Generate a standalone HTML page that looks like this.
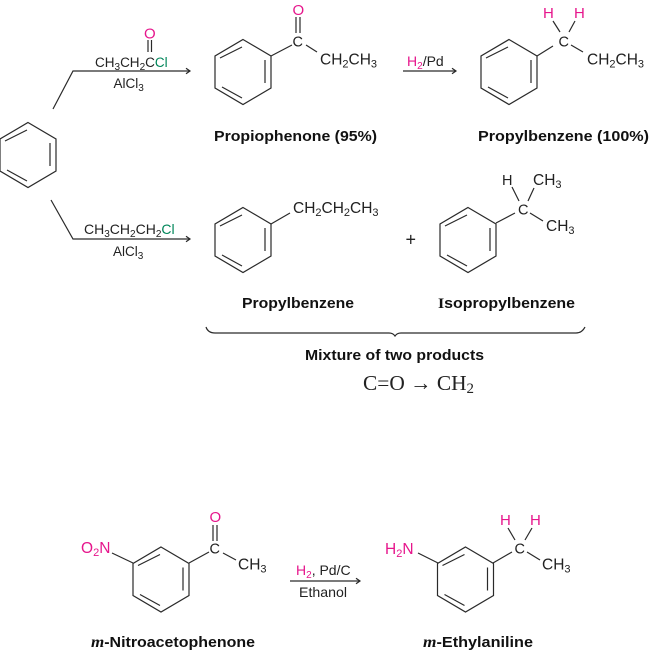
<!DOCTYPE html>
<html>
<head>
<meta charset="utf-8">
<style>
html,body{margin:0;padding:0;background:#fff;width:650px;height:652px;overflow:hidden}
svg{display:block}
text{font-family:"Liberation Sans",sans-serif;font-size:13.500px;fill:#222}
.l{font-size:15.500px}
.l .s{font-size:11px}
.b{font-weight:700;font-size:15px;fill:#111}
.p{fill:#e6168c}
.g{fill:#00865a}
.s{font-size:10px}
line,polyline,path{stroke:#2a2a2a;stroke-width:1.2;fill:none}
</style>
</head>
<body>
<svg width="650" height="652" viewBox="0 0 650 652" xmlns="http://www.w3.org/2000/svg">
<defs>
<g id="r">
<path d="M0-32.500L28-16V16L0 32.500L-28 16V-16Z"/>
<path d="M-23-14L-1-25M22-12V11M-21 15L-1 26" stroke="#444"/>
</g>
<path id="ah" d="M-4-2.800L0 0L-4 2.800" />
</defs>

<use href="#r" x="28" y="155"/>
<use href="#r" x="243" y="72"/>
<use href="#r" x="509" y="72"/>
<use href="#r" x="243" y="240"/>
<use href="#r" x="468" y="240"/>
<use href="#r" x="161" y="579.500"/>
<use href="#r" x="465.500" y="579.500"/>

<polyline points="53,109 73,71 190,71"/><use href="#ah" x="190" y="71"/>
<polyline points="51,200 73,239 190,239"/><use href="#ah" x="190" y="239"/>
<line x1="403" y1="71" x2="456" y2="71"/><use href="#ah" x="456" y="71"/>
<line x1="290" y1="581" x2="360" y2="581"/><use href="#ah" x="360" y="581"/>

<path d="M148 40V52M151.500 40V52"/>
<text x="144" y="38.500" class="p" style="font-size:15px">O</text>
<text x="95" y="67">CH<tspan class="s" dy="3">3</tspan><tspan dy="-3">CH</tspan><tspan class="s" dy="3">2</tspan><tspan dy="-3">C</tspan><tspan class="g">Cl</tspan></text>
<text x="113.500" y="88">AlCl<tspan class="s" dy="3">3</tspan></text>

<path d="M296 17V33M300 17V33M271 56L292 45M306 45L317 52"/>
<text x="292.500" y="15" class="p" style="font-size:15px">O</text>
<text x="292.500" y="46.500" style="font-size:14.500px">C</text>
<text x="320" y="64.500" class="l">CH<tspan class="s" dy="3">2</tspan><tspan dy="-3">CH</tspan><tspan class="s" dy="3">3</tspan></text>
<text x="214" y="141" class="b" textLength="163" lengthAdjust="spacingAndGlyphs">Propiophenone (95%)</text>

<text x="407" y="66" style="font-size:14px"><tspan class="p">H</tspan><tspan class="s p" dy="3">2</tspan><tspan dy="-3">/Pd</tspan></text>

<path d="M537 56L553 46M553 21L560 32M575 21L569 32M571 45L583 52"/>
<text x="543" y="18" class="p" style="font-size:15px">H</text>
<text x="574" y="18" class="p" style="font-size:15px">H</text>
<text x="558.500" y="46.500" style="font-size:14.500px">C</text>
<text x="587" y="64.500" class="l">CH<tspan class="s" dy="3">2</tspan><tspan dy="-3">CH</tspan><tspan class="s" dy="3">3</tspan></text>
<text x="478" y="141" class="b" textLength="171" lengthAdjust="spacingAndGlyphs">Propylbenzene (100%)</text>

<text x="84" y="234" style="font-size:14px">CH<tspan class="s" dy="3">3</tspan><tspan dy="-3">CH</tspan><tspan class="s" dy="3">2</tspan><tspan dy="-3">CH</tspan><tspan class="s" dy="3">2</tspan><tspan dy="-3" class="g">Cl</tspan></text>
<text x="113" y="256">AlCl<tspan class="s" dy="3">3</tspan></text>

<line x1="271" y1="224" x2="290" y2="213"/>
<text x="293" y="213" class="l">CH<tspan class="s" dy="3">2</tspan><tspan dy="-3">CH</tspan><tspan class="s" dy="3">2</tspan><tspan dy="-3">CH</tspan><tspan class="s" dy="3">3</tspan></text>
<text x="405.500" y="245.500" style="font-size:18px">+</text>

<path d="M496 223L515 213M512 187L519 201M534 188L528 201M530 213L543 221"/>
<text x="502" y="185" style="font-size:14.500px">H</text>
<text x="533" y="185" style="font-size:15.500px">CH<tspan style="font-size:11px" dy="3">3</tspan></text>
<text x="518" y="214.500" style="font-size:14.500px">C</text>
<text x="546" y="231" style="font-size:15.500px">CH<tspan style="font-size:11px" dy="3">3</tspan></text>

<text x="242" y="308" class="b" textLength="112" lengthAdjust="spacingAndGlyphs">Propylbenzene</text>
<text x="438" y="308" class="b" textLength="137" lengthAdjust="spacingAndGlyphs"><tspan style="font-family:'Liberation Serif',serif">I</tspan>sopropylbenzene</text>

<path d="M206 327Q208 333 215 333H389Q393 333 395 336Q397 333 401 333H576Q582 333 585 327"/>
<text x="305" y="360" class="b" textLength="179" lengthAdjust="spacingAndGlyphs">Mixture of two products</text>
<text x="363" y="390" style="font-family:'Liberation Serif',serif;font-size:21.500px" textLength="111" lengthAdjust="spacingAndGlyphs">C=O → CH<tspan style="font-size:15px" dy="3">2</tspan></text>

<path d="M112 553L133 563M189 563L209 552M213 525V541M217 525V541M223 553L236 560"/>
<text x="81" y="553" class="p l">O<tspan class="s p" dy="3">2</tspan><tspan class="p" dy="-3">N</tspan></text>
<text x="209.500" y="553.500" style="font-size:14.500px">C</text>
<text x="209.500" y="522" class="p" style="font-size:15px">O</text>
<text x="238" y="569.500" class="l">CH<tspan class="s" dy="3">3</tspan></text>
<text x="296" y="575" style="font-size:14px"><tspan class="p">H</tspan><tspan class="s p" dy="3">2</tspan><tspan dy="-3">, Pd/C</tspan></text>
<text x="299" y="597" textLength="48" lengthAdjust="spacingAndGlyphs" style="font-size:14px">Ethanol</text>
<text x="91" y="647" class="b" textLength="164" lengthAdjust="spacingAndGlyphs"><tspan font-style="italic" style="font-family:'Liberation Serif',serif;font-size:16px">m</tspan>-Nitroacetophenone</text>

<path d="M418 553L438 563M493 563L512 552M508 528L515 540M532 528L525 540M527 552L540 560"/>
<text x="385" y="554" class="p l">H<tspan class="s p" dy="3">2</tspan><tspan class="p" dy="-3">N</tspan></text>
<text x="500" y="525" class="p" style="font-size:15px">H</text>
<text x="530" y="525" class="p" style="font-size:15px">H</text>
<text x="514.500" y="553.500" style="font-size:14.500px">C</text>
<text x="542" y="569.500" class="l">CH<tspan class="s" dy="3">3</tspan></text>
<text x="423" y="647" class="b" textLength="110" lengthAdjust="spacingAndGlyphs"><tspan font-style="italic" style="font-family:'Liberation Serif',serif;font-size:16px">m</tspan>-Ethylaniline</text>
</svg>
</body>
</html>
